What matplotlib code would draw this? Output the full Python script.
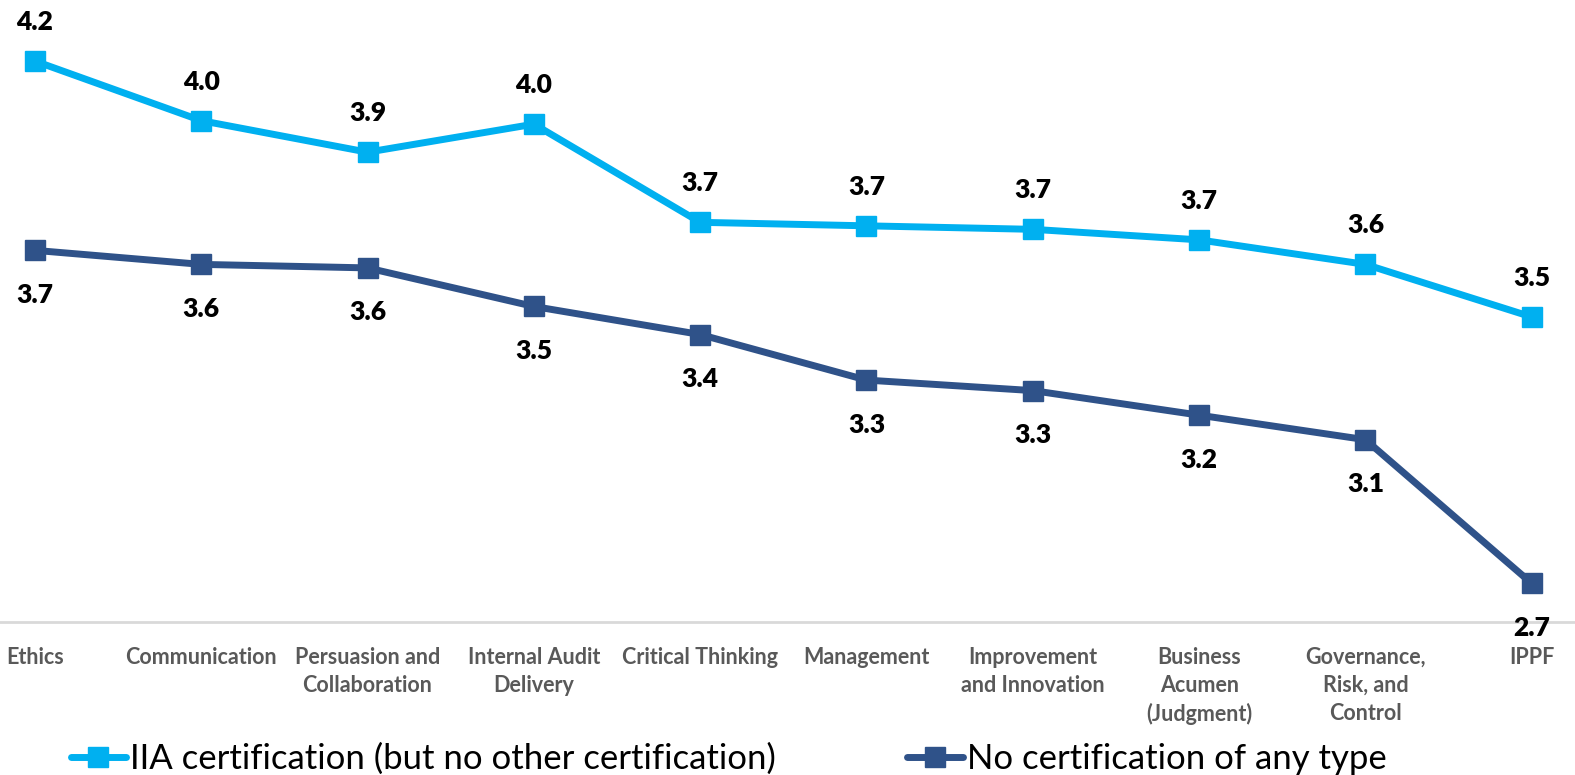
import matplotlib.pyplot as plt
from matplotlib.lines import Line2D

plt.rcParams['font.family'] = ['Lato', 'DejaVu Sans']

# categories and series
categories = ['Ethics', 'Communication', 'Persuasion and\nCollaboration', 'Internal Audit\nDelivery',
              'Critical Thinking', 'Management', 'Improvement\nand Innovation', 'Business\nAcumen\n(Judgment)',
              'Governance,\nRisk, and\nControl', 'IPPF']
iia_cert = [4.20, 4.03, 3.94, 4.02, 3.74, 3.73, 3.72, 3.69, 3.62, 3.47]
no_cert = [3.66, 3.62, 3.61, 3.50, 3.42, 3.29, 3.26, 3.19, 3.12, 2.71]
series_names = ['IIA certification (but no other certification)', 'No certification of any type']

light = '#00B0F0'
dark = '#2F5289'

fig = plt.figure(figsize=(15.75, 7.75), dpi=100)
ax = fig.add_axes([0, 1 - 622 / 775, 1, 622 / 775])
x = range(len(categories))

ax.plot(x, iia_cert, color=light, lw=5, marker='s', ms=15, solid_joinstyle='round')
ax.plot(x, no_cert, color=dark, lw=5, marker='s', ms=15, solid_joinstyle='round')

for i, v in enumerate(iia_cert):
    ax.annotate(f'{v:.1f}', (i, v), xytext=(0, 28), textcoords='offset points',
                ha='center', va='center', fontsize=19, fontweight='heavy', color='black')
for i, v in enumerate(no_cert):
    ax.annotate(f'{v:.1f}', (i, v), xytext=(0, -32), textcoords='offset points',
                ha='center', va='center', fontsize=19, fontweight='heavy', color='black', zorder=5)

ax.set_xlim(-0.21, 9.26)
ax.set_ylim(2.6, 2.6 + 622 / 350.6)
ax.set_xticks(list(x))
ax.set_xticklabels(categories, fontsize=15.5, fontweight='bold', color='#595959', linespacing=1.4, va='top')
ax.tick_params(axis='x', length=0, pad=18)
ax.set_yticks([])
for s in ['top', 'left', 'right']:
    ax.spines[s].set_visible(False)
ax.spines['bottom'].set_color('#D9D9D9')
ax.spines['bottom'].set_linewidth(2)
ax.patch.set_alpha(0)

handles = [Line2D([], [], color=light, lw=5, marker='s', ms=15, solid_capstyle='round'),
           Line2D([], [], color=dark, lw=5, marker='s', ms=15, solid_capstyle='round')]
fig.legend(handles, series_names, loc='lower left', bbox_to_anchor=(0.025, -0.04), ncol=2,
           frameon=False, fontsize=25, handlelength=1.6, handletextpad=0.1, columnspacing=3.8)

fig.savefig('out.png', dpi=100)
